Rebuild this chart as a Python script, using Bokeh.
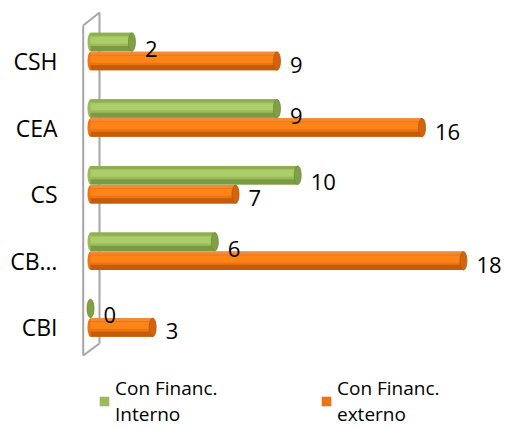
from bokeh.plotting import figure
from bokeh.models import Range1d, Legend, LegendItem, ColumnDataSource
from bokeh.core.properties import value
from bokeh.embed import file_html
from bokeh.resources import INLINE

# ---- data (bottom to top) ----
categories = ["CBI", "CB…", "CS", "CEA", "CSH"]
interno = [0, 6, 10, 9, 2]
externo = [3, 18, 7, 16, 9]
series_names = ["Con Financ.\nInterno", "Con Financ.\nexterno"]

# ---- geometry (canvas pixels) ----
W, H = 505, 428
X0, SX = 90.0, 20.72      # pixel of value 0, pixels per unit
Y0, SY = 326.9, 66.6      # pixel of bottom category, pixels per category
BH = 18.5 / SY            # bar thickness
GO = 19.0 / SY            # green bar offset above orange

FONT = "Open Sans"

p = figure(width=W, height=H, output_backend="svg", toolbar_location=None,
           x_range=Range1d(-X0 / SX, (W - X0) / SX),
           y_range=Range1d(-(H - Y0) / SY, Y0 / SY),
           min_border=0, min_border_left=0, min_border_right=0,
           min_border_top=0, min_border_bottom=0)
p.axis.visible = False
p.grid.visible = False
p.outline_line_color = None
p.background_fill_color = "white"
p.border_fill_color = "white"


def px_x(px):
    return (px - X0) / SX


def px_y(py):
    return (Y0 - py) / SY


n = len(categories)
# 3D wall (drawn first, behind bars)
wall_c = "#A6A6A6"
fx, bx = 82.7, 99.0
p.line([px_x(bx), px_x(bx)], [px_y(12), px_y(343)], line_color=wall_c, line_width=2)
p.line([px_x(fx), px_x(bx)], [px_y(25), px_y(12)], line_color=wall_c, line_width=2)
p.line([px_x(fx), px_x(bx)], [px_y(355), px_y(343)], line_color=wall_c, line_width=2)
p.line([px_x(fx), px_x(fx)], [px_y(25), px_y(355)], line_color=wall_c, line_width=2)


def cylinder(ys, vals, base, top_edge, light, shadow, cap, cap_line):
    src = ColumnDataSource(dict(y=ys, v=vals, z=[0] * len(ys),
                                yh=[y + BH * 0.10 for y in ys],
                                yt=[y + BH * 0.42 for y in ys],
                                ys=[y - BH * 0.36 for y in ys]))
    p.ellipse(x="z", y="y", width=6, height=BH, width_units="screen",
              fill_color=base, line_color=None, source=src)
    body = p.hbar(y="y", left="z", right="v", height=BH, fill_color=base,
                  line_color=None, source=src)
    p.hbar(y="yt", left="z", right="v", height=BH * 0.16, fill_color=top_edge,
           line_color=None, source=src)
    p.hbar(y="yh", left="z", right="v", height=BH * 0.38, fill_color=light,
           line_color=None, source=src)
    p.hbar(y="ys", left="z", right="v", height=BH * 0.28, fill_color=shadow,
           line_color=None, source=src)
    p.ellipse(x="v", y="y", width=7, height=BH, width_units="screen",
              fill_color=cap, line_color=cap_line, line_width=0.8, source=src)
    return body


ys_e = [float(i) for i in range(n)]
ys_i = [float(i) + GO for i in range(n)]

body_e = cylinder(ys_e, externo, "#EC7411", "#F48A36", "#FF8418", "#C45C0C", "#D2640E", "#B9560A")
body_i = cylinder(ys_i, interno, "#9BBB59", "#8FAE52", "#ACCD6B", "#7B9A44", "#80A046", "#6E8C3A")

# value labels
p.text(x=externo, y=ys_e, text=[str(v) for v in externo], x_offset=13, y_offset=4,
       text_font=value(FONT), text_font_size="22px", text_color="black",
       text_align="left", text_baseline="middle")
p.text(x=interno, y=ys_i, text=[str(v) for v in interno], x_offset=13, y_offset=7,
       text_font=value(FONT), text_font_size="22px", text_color="black",
       text_align="left", text_baseline="middle")

# category labels
p.text(x=[px_x(57)] * n, y=ys_e, text=categories,
       text_font=value(FONT), text_font_size="23px", text_color="black",
       text_align="right", text_baseline="middle")

# legend (separate legends for exact placement)
for name, r, lx in zip(series_names, [body_i, body_e], [98, 320]):
    lg = Legend(items=[LegendItem(label=name, renderers=[r])],
                location=(lx, 1), padding=0, margin=0, spacing=0,
                glyph_width=12, glyph_height=12, label_standoff=5,
                label_text_font=FONT, label_text_font_size="19px",
                label_text_color="black", label_text_line_height=1.1,
                label_text_baseline="top",
                border_line_alpha=0, background_fill_alpha=0)
    p.add_layout(lg)

open("out.html", "w").write(file_html(p, INLINE))
